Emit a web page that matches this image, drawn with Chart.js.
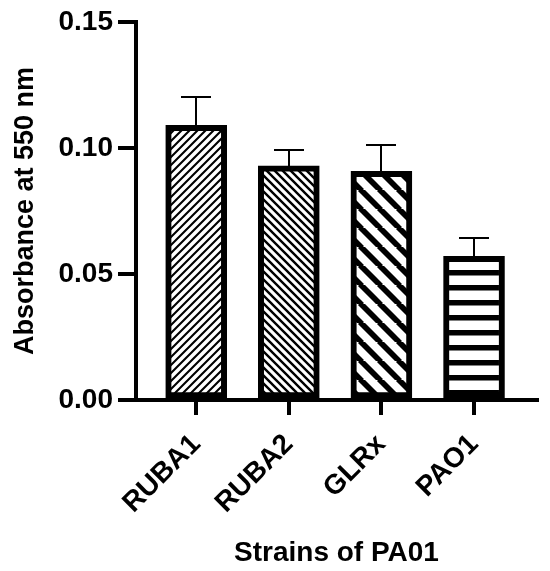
<!DOCTYPE html>
<html>
<head>
<meta charset="utf-8">
<script src="https://cdn.jsdelivr.net/npm/chart.js@4"></script>
<style>
  html, body { margin: 0; padding: 0; background: #fff; }
  #wrap { width: 550px; height: 571px; position: relative; }
</style>
</head>
<body>
<div id="wrap"><canvas id="c" width="550" height="571"></canvas></div>
<script>
const categories = ['RUBA1', 'RUBA2', 'GLRx', 'PAO1'];
const absorbance = [0.109, 0.0929, 0.0907, 0.0570];
const errorSD = [0.0112, 0.0063, 0.0105, 0.0073];
const yTicks = [0.00, 0.05, 0.10, 0.15];

function makePattern(kind) {
  const c = document.createElement('canvas');
  const ctx = c.getContext('2d');
  let p;
  if (kind === 'thinFwd' || kind === 'thinBack') p = 8;
  else if (kind === 'thickBack') p = 19;
  else p = 15;
  c.width = p; c.height = p;
  ctx.fillStyle = '#fff';
  ctx.fillRect(0, 0, p, p);
  ctx.strokeStyle = '#000';
  if (kind === 'horiz') {
    ctx.fillStyle = '#000';
    ctx.fillRect(0, 0, p, 5.5);
  } else {
    ctx.lineWidth = kind === 'thinFwd' ? 2.1 : (kind === 'thinBack' ? 2.4 : 5.7);
    ctx.beginPath();
    if (kind === 'thinFwd') {
      for (let k = -1; k <= 1; k++) {
        ctx.moveTo(k * p - 1, p + 1);
        ctx.lineTo(k * p + p + 1, -1);
      }
    } else {
      for (let k = -1; k <= 1; k++) {
        ctx.moveTo(k * p - 1, -1);
        ctx.lineTo(k * p + p + 1, p + 1);
      }
    }
    ctx.stroke();
  }
  return ctx.createPattern(c, 'repeat');
}

const patterns = [makePattern('thinFwd'), makePattern('thinBack'), makePattern('thickBack'), makePattern('horiz')];

const errorBarPlugin = {
  id: 'errorBars',
  afterDatasetsDraw(chart) {
    const ctx = chart.ctx;
    const meta = chart.getDatasetMeta(0);
    const ys = chart.scales.y;
    ctx.save();
    ctx.strokeStyle = '#000';
    ctx.lineWidth = 2;
    meta.data.forEach((bar, i) => {
      const top = ys.getPixelForValue(absorbance[i] + errorSD[i]);
      const x = Math.round(bar.x);
      ctx.beginPath();
      ctx.moveTo(x, bar.y + 3);
      ctx.lineTo(x, top);
      ctx.moveTo(x - 15, top);
      ctx.lineTo(x + 15, top);
      ctx.stroke();
    });
    ctx.restore();
  }
};

const FONT = "'Liberation Sans', Arial, sans-serif";

new Chart(document.getElementById('c'), {
  type: 'bar',
  data: {
    datasets: [{
      data: absorbance.map((v, i) => ({ x: i, y: v })),
      backgroundColor: patterns,
      borderColor: '#000',
      borderWidth: 6,
      borderSkipped: false,
      barThickness: 61
    }]
  },
  options: {
    responsive: false,
    animation: false,
    events: [],
    layout: { padding: { top: 22, right: 13, bottom: 0, left: 9 } },
    plugins: { legend: { display: false }, tooltip: { enabled: false } },
    scales: {
      x: {
        type: 'linear',
        min: -0.65,
        max: 3.68,
        offset: false,
        afterBuildTicks(scale) { scale.ticks = categories.map((c, i) => ({ value: i })); },
        afterFit(scale) { scale.height = 571 - 400; },
        ticks: {
          callback: (v) => categories[v],
          autoSkip: false,
          minRotation: 45,
          maxRotation: 45,
          color: '#000',
          padding: 13,
          font: { family: FONT, size: 28, weight: 'bold' }
        },
        grid: { offset: false, drawOnChartArea: false, drawTicks: true, tickLength: 15, tickWidth: 4, tickColor: '#000', color: '#000', lineWidth: 4 },
        border: { display: true, color: '#000', width: 4 },
        title: {
          display: true,
          text: 'Strains of PA01',
          color: '#000',
          padding: { top: 4, bottom: 1 },
          font: { family: FONT, size: 28, weight: 'bold' }
        }
      },
      y: {
        min: 0,
        max: 0.15,
        afterBuildTicks(scale) { scale.ticks = yTicks.map(v => ({ value: v })); },
        afterFit(scale) { scale.width = 136 - 9; },
        ticks: {
          callback: (v) => v.toFixed(2),
          color: '#000',
          padding: 5,
          font: { family: FONT, size: 28, weight: 'bold' }
        },
        grid: { drawOnChartArea: false, drawTicks: true, tickLength: 18, tickWidth: 4, tickColor: '#000', color: '#000', lineWidth: 4 },
        border: { display: true, color: '#000', width: 4 },
        title: {
          display: true,
          text: 'Absorbance at 550 nm',
          color: '#000',
          padding: { top: 0, bottom: 4 },
          font: { family: FONT, size: 27, weight: 'bold' }
        }
      }
    }
  },
  plugins: [errorBarPlugin]
});
</script>
</body>
</html>
